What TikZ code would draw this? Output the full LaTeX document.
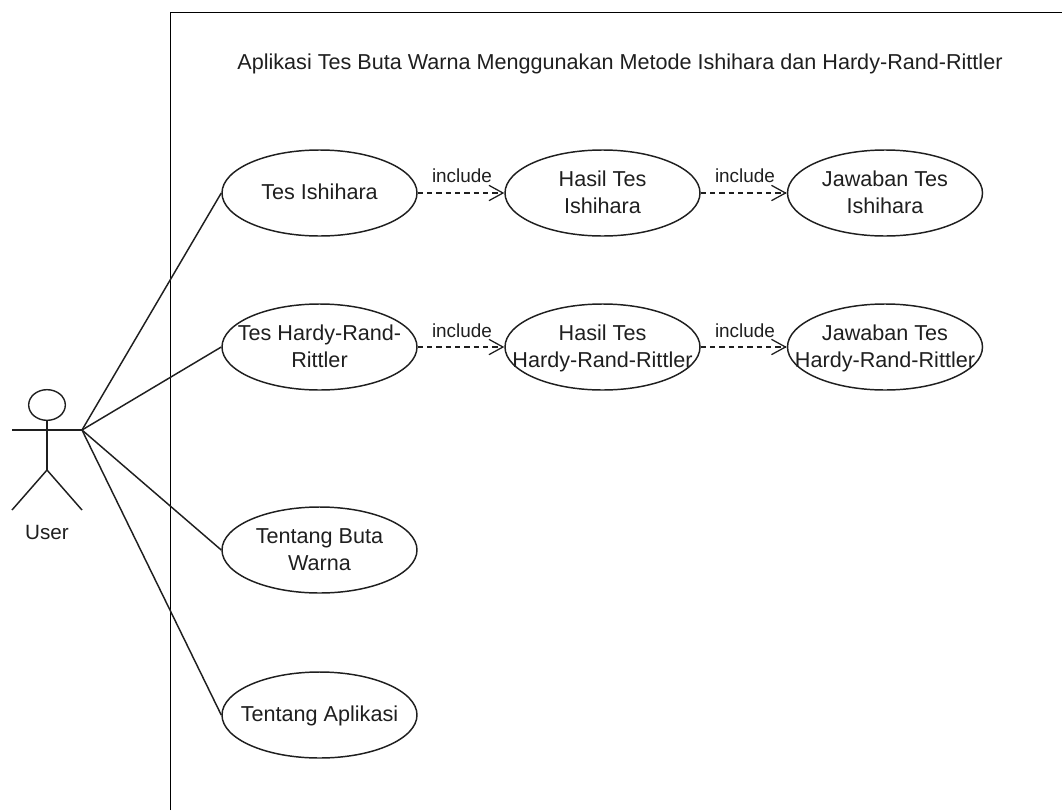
\documentclass[tikz,border=0pt]{standalone}
\usepackage{fontspec}
\setmainfont{Liberation Sans}
\usetikzlibrary{shapes.geometric,arrows.meta}
\colorlet{ink}{black!88}
\newcommand{\ctr}[1]{\strut\makebox[0pt][c]{\raisebox{-0.9pt}{#1}}}
\tikzset{
  x=0.75pt,y=-0.75pt,
  usecase/.style={ellipse,draw=ink,line width=1.1pt,minimum width=146.25pt,minimum height=64.5pt,inner sep=0pt,align=center,font=\fontsize{16.2}{20.3}\selectfont,text=ink},
  assoc/.style={draw=ink,line width=1.1pt},
  stick/.style={draw=ink,line width=1.1pt},
  inc/.style={draw=ink,line width=0.95pt,dash pattern=on 4pt off 3pt,-{Straight Barb[length=10.5pt,width=11.5pt,line width=0.95pt]}},
  inclabel/.style={inner sep=0pt,font=\fontsize{14.2}{16}\selectfont,text=ink},
  plain/.style={inner sep=0pt,font=\fontsize{15.5}{18}\selectfont,text=ink}
}
\begin{document}
\begin{tikzpicture}
\useasboundingbox (0,0) rectangle (1062,810);
% system boundary (open on the right and at the bottom of the picture)
\coordinate (fb) at (170.5,810);
\coordinate (ft) at (170.5,12.5);
\coordinate (fr) at (1062,12.5);
\draw[black,line width=1.2pt] (fb) -- (ft) -- (fr);
\node[inner sep=0pt,font=\fontsize{16.2}{18}\selectfont,text=ink] (title) at (620,64) {Aplikasi Tes Buta Warna Menggunakan Metode Ishihara dan Hardy-Rand-Rittler};
% use cases
\node[usecase] (a1) at (319.5,193) {\ctr{Tes Ishihara}};
\node[usecase] (a2) at (602.5,193) {\ctr{Hasil Tes}\\\ctr{Ishihara}};
\node[usecase] (a3) at (885,193) {\ctr{Jawaban Tes}\\\ctr{Ishihara}};
\node[usecase] (b1) at (319.5,347) {\ctr{Tes Hardy-Rand-}\\\ctr{Rittler}};
\node[usecase] (b2) at (602.5,347) {\ctr{Hasil Tes}\\\ctr{Hardy-Rand-Rittler}};
\node[usecase] (b3) at (885,347) {\ctr{Jawaban Tes}\\\ctr{Hardy-Rand-Rittler}};
\node[usecase] (c) at (319.5,550) {\ctr{Tentang Buta}\\\ctr{Warna}};
\node[usecase] (d) at (319.5,715) {\ctr{Tentang Aplikasi}};
% actor
\coordinate (hand) at (82,430);
\coordinate (handl) at (12,430);
\coordinate (hip) at (47,470);
\coordinate (footl) at (12,510);
\coordinate (footr) at (82,510);
\node[ellipse,draw=ink,line width=1.05pt,minimum width=27.5pt,minimum height=23pt,inner sep=0pt] (head) at (47,405) {};
\draw[stick] (handl) -- (hand);
\draw[stick] (head.south) -- (hip);
\draw[stick] (footl) -- (hip) -- (footr);
\node[plain] (user) at (47,532) {User};
% associations
\draw[assoc] (hand) -- (a1.west);
\draw[assoc] (hand) -- (b1.west);
\draw[assoc] (hand) -- (c.west);
\draw[assoc] (hand) -- (d.west);
% includes
\draw[inc] (a1.east) -- (a2.west);
\draw[inc] (a2.east) -- (a3.west);
\draw[inc] (b1.east) -- (b2.west);
\draw[inc] (b2.east) -- (b3.west);
\node[inclabel] (l1) at (462,176) {include};
\node[inclabel] (l2) at (745,176) {include};
\node[inclabel] (l3) at (462,331) {include};
\node[inclabel] (l4) at (745,331) {include};
\end{tikzpicture}
\end{document}
